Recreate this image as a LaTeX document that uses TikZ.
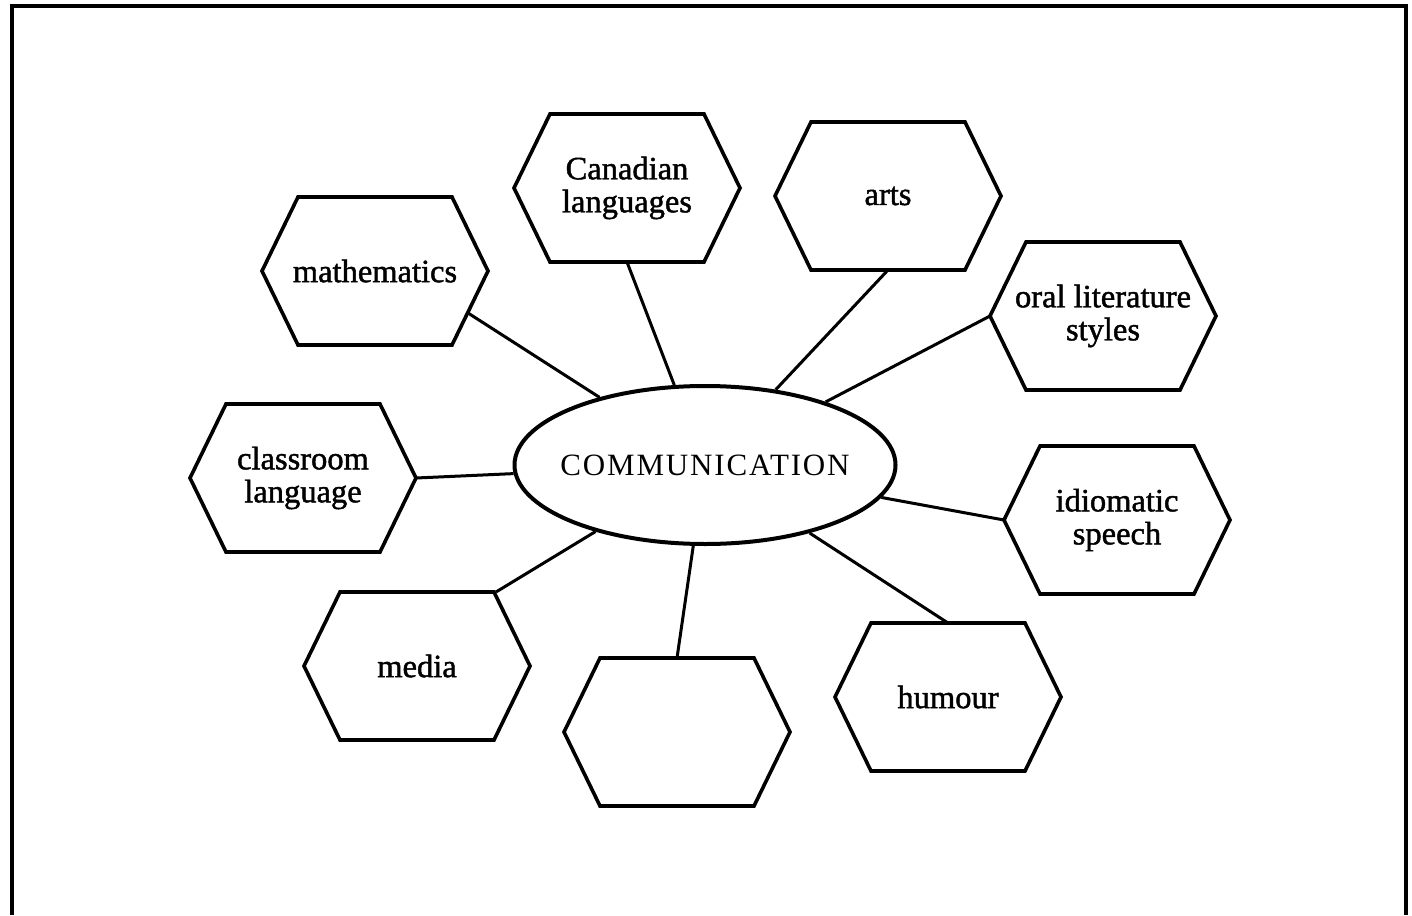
\documentclass[tikz,border=0pt]{standalone}
\usepackage{fontspec}
\setmainfont{Liberation Serif}
\newfontfamily\labelfont[FakeBold=1.4]{Liberation Serif}
\newfontfamily\hubfont[LetterSpace=6]{Liberation Serif}
\usetikzlibrary{shapes.geometric,calc}
\begin{document}
\begin{tikzpicture}[x=1pt,y=-1pt,
  frameline/.style={line width=3.6pt},
  hexbox/.style={minimum width=226pt,minimum height=148pt,inner sep=0pt,outer sep=0pt,
    align=center,font=\labelfont\fontsize{32.5}{33}\selectfont},
  hexline/.style={line width=3.6pt,line join=miter},
  hub/.style={ellipse,draw,line width=4pt,minimum width=381pt,minimum height=158pt,
    inner sep=0pt,font=\hubfont\fontsize{31}{34}\selectfont},
  link/.style={line width=3pt}]
\useasboundingbox (0,0) rectangle (1412,915);

% open frame (top, left and right rules)
\coordinate (fa) at (10,6);
\coordinate (fb) at (1408,6);
\coordinate (fc) at (12,8);
\coordinate (fd) at (12,915);
\coordinate (fe) at (1406,4);
\coordinate (ff) at (1406,915);
\draw[frameline] (fa) -- (fb);
\draw[frameline] (fc) -- (fd);
\draw[frameline] (fe) -- (ff);

% central ellipse; the zero-width box keeps the label from widening it
\node[hub] (hub) at (705,465) {\makebox[0pt][c]{COMMUNICATION}};

% hexagon boxes
\node[hexbox] (math)    at (375,271) {mathematics};
\node[hexbox] (canlang) at (627,188) {Canadian\\languages};
\node[hexbox] (arts)    at (888,196) {arts};
\node[hexbox] (oral)    at (1103,316) {oral literature\\styles};
\node[hexbox] (class)   at (303,478) {classroom\\language};
\node[hexbox] (idiom)   at (1117,520) {idiomatic\\speech};
\node[hexbox] (media)   at (417,666) {media};
\node[hexbox] (blank)   at (677,732) {};
\node[hexbox] (humour)  at (948,697) {humour};

\foreach \n in {math,canlang,arts,oral,class,idiom,media,blank,humour}
  \draw[hexline] (\n.west) -- ([xshift=36pt]\n.north west) -- ([xshift=-36pt]\n.north east)
    -- (\n.east) -- ([xshift=-36pt]\n.south east) -- ([xshift=36pt]\n.south west) -- cycle;

% spokes to the ellipse
\draw[link] ($(math.center)+(93,42)$) -- (hub);
\draw[link] (canlang.south) -- (hub);
\draw[link] (arts.south) -- (hub);
\draw[link] (oral.west) -- (hub);
\draw[link] (class.east) -- (hub);
\draw[link] (idiom.west) -- (hub);
\draw[link] ([xshift=-34pt]media.north east) -- (hub);
\draw[link] (blank.north) -- (hub);
\draw[link] (humour.north) -- (hub);
\end{tikzpicture}
\end{document}
